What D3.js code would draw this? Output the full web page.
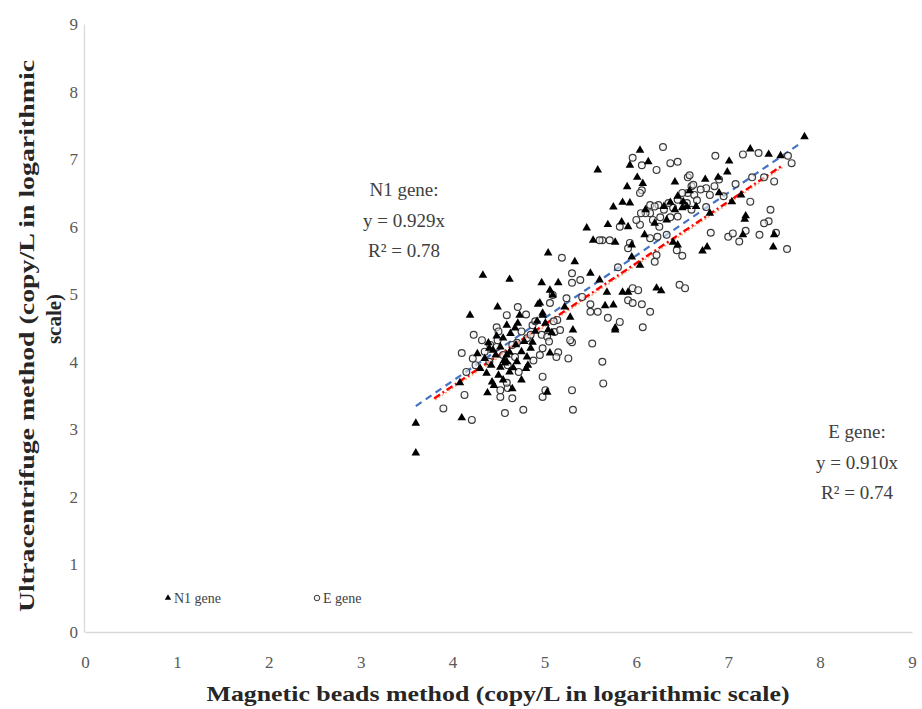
<!DOCTYPE html>
<html>
<head>
<meta charset="utf-8">
<script src="https://cdn.jsdelivr.net/npm/d3@7"></script>
<style>
  html, body { margin: 0; padding: 0; background: #fff; }
  svg { display: block; }
</style>
</head>
<body>
<svg id="chart" width="922" height="709"></svg>
<script>
// ---------- DATA ----------
const xTicks = [0, 1, 2, 3, 4, 5, 6, 7, 8, 9];
const yTicks = [0, 1, 2, 3, 4, 5, 6, 7, 8, 9];

const n1X = [3.60,3.60,4.10,4.08,4.19,4.49,4.39,4.37,4.43,4.38,4.52,4.57,4.59,4.66,4.75,4.81,4.82,4.52,4.59,4.68,4.71,4.62,4.55,4.87,4.98,5.04,5.06,5.09,4.95,4.33,4.62,4.73,4.44,4.59,5.08,5.03,5.66,5.75,5.77,4.93,
  4.35,4.42,4.47,4.50,4.62,4.70,4.75,4.55,4.85,4.90,4.40,4.30,4.65,4.45,4.80,4.27,4.48,4.63,4.78,4.92,4.56,4.69,
  5.04,5.33,5.53,5.77,5.95,6.09,5.95,6.04,5.50,5.60,5.15,5.06,4.97,5.68,5.85,5.91,6.22,5.77,5.31,4.98,5.01,5.22,5.28,6.40,6.45,
  6.04,5.58,5.93,6.13,6.01,6.42,6.07,5.90,5.85,5.93,5.75,5.46,5.69,5.84,5.91,6.37,6.33,6.42,6.50,
  7.83,7.24,7.44,7.57,7.01,6.89,6.99,6.58,6.51,7.18,7.19,6.72,7.49,7.16,7.50,7.14,7.04,6.27,6.77,
  6.10,6.30,6.45,6.55,6.20,6.65,6.75,6.90,6.80];
const n1Y = [2.65,3.09,3.17,3.69,4.69,4.81,4.28,3.83,3.70,3.54,3.92,3.98,4.10,3.91,3.73,4.07,3.95,4.22,4.54,4.50,4.57,4.14,3.73,4.29,4.69,4.47,4.13,4.99,4.87,5.28,5.22,4.69,4.17,4.00,4.43,3.55,4.83,4.84,4.50,4.85,
  4.05,3.95,4.10,3.80,3.85,4.00,4.15,4.35,4.20,4.45,4.20,3.90,3.60,3.65,3.90,4.12,4.38,4.42,4.30,4.60,4.02,4.25,
  5.61,5.48,5.80,5.77,5.73,5.88,5.55,5.43,5.31,5.21,5.17,5.06,5.17,5.03,5.03,5.03,5.09,4.47,4.47,4.72,4.57,4.81,4.66,5.77,5.73,
  7.13,6.84,6.91,6.96,6.73,6.66,6.64,6.59,6.36,6.35,6.29,5.98,6.03,6.07,6.00,6.36,6.10,6.25,6.28,
  7.33,7.15,7.07,7.05,6.97,6.73,6.81,6.53,6.37,6.11,6.16,5.64,5.70,5.88,5.88,6.47,6.37,5.05,5.70,
  6.25,6.30,6.45,6.30,6.05,6.30,6.70,6.50,6.20];

const eX = [3.90,4.13,4.21,4.10,4.22,4.23,4.32,4.48,4.59,4.71,4.49,4.52,4.57,4.60,4.65,4.77,4.59,4.52,4.68,4.70,4.87,4.97,4.98,4.98,5.01,4.98,5.11,5.15,4.81,4.41,4.48,
  5.30,5.52,5.26,5.63,5.13,5.64,5.30,5.31,
  5.19,5.30,5.39,5.30,5.63,5.71,5.93,5.91,6.23,6.33,6.44,6.22,6.20,5.80,6.47,5.96,6.02,5.91,5.96,6.15,6.07,5.69,5.82,5.50,5.58,5.41,5.28,5.17,5.06,5.09,5.24,5.14,5.03,5.50,6.06,
  6.29,5.96,6.06,6.22,6.37,6.45,6.06,6.04,6.15,6.24,6.15,6.18,6.26,6.37,6.40,6.04,5.82,5.60,6.56,6.56,
  7.16,7.33,6.86,7.65,7.69,7.26,7.39,7.50,6.58,6.60,6.63,6.76,6.80,6.66,6.60,6.76,7.24,7.08,7.46,7.44,7.39,7.19,7.12,6.81,7.52,7.64,7.34,6.50,6.53,
  4.40,4.55,4.65,4.85,4.90,4.75,4.50,4.35,4.25,4.60,4.95,5.05,4.80,5.10,4.15,4.72,4.88,
  6.10,6.20,6.30,6.35,6.45,6.50,6.55,6.00,6.25,6.45,6.70,6.85,6.95,6.05,7.00,7.05,6.15,6.62,6.90];
const eY = [3.31,3.51,3.14,4.13,4.05,4.40,4.32,4.51,4.69,4.81,4.32,3.48,3.24,3.61,3.46,3.29,3.69,3.58,4.07,4.28,4.54,4.40,4.20,3.78,3.58,3.48,4.44,4.14,4.35,4.25,4.22,
  4.29,4.27,4.05,4.00,4.07,3.68,3.58,3.29,
  5.54,5.31,5.21,5.17,5.80,5.80,5.76,5.68,5.85,5.88,5.65,5.58,5.48,5.40,5.14,5.09,5.06,4.91,4.87,4.74,4.51,4.65,4.59,4.74,4.74,4.96,4.32,4.47,4.87,4.99,4.94,4.62,4.37,4.85,4.85,
  7.18,7.02,6.91,6.84,6.94,6.96,6.54,6.50,6.32,6.32,6.20,6.10,6.14,6.14,6.28,6.03,6.00,5.80,6.73,6.50,
  7.07,7.09,7.05,7.05,6.94,6.73,6.73,6.67,6.76,6.60,6.47,6.57,6.47,6.39,6.25,6.29,6.37,6.63,6.25,6.08,6.05,5.94,5.78,5.91,5.91,5.67,5.88,5.57,5.09,
  4.00,4.10,4.25,4.40,4.60,4.45,4.45,4.15,3.95,3.95,4.10,4.30,4.70,4.60,3.85,3.85,4.02,
  6.20,6.30,6.25,6.35,6.40,6.50,6.35,6.10,6.00,6.15,6.55,6.60,6.45,6.20,5.85,5.90,5.83,6.62,6.70];

// Trendlines (through origin): slope and drawn x-range
const n1Slope = 0.929, n1Range = [3.6, 7.8];
const eSlope = 0.910,  eRange  = [3.8, 7.6];

const n1Label = ["N1 gene:", "y = 0.929x", "R\u00B2 = 0.78"];
const eLabel  = ["E gene:", "y = 0.910x", "R\u00B2 = 0.74"];

// ---------- CHART ----------
const svg = d3.select("#chart");
const serif = "'Liberation Serif', 'Times New Roman', serif";

const x = d3.scaleLinear().domain([0, 9]).range([85, 912]);
const y = d3.scaleLinear().domain([0, 9]).range([632, 24]);

// Axes
const gx = svg.append("g").attr("transform", `translate(0,${y(0)})`)
  .call(d3.axisBottom(x).tickValues(xTicks).tickSize(0).tickPadding(24).tickFormat(d3.format("d")));
const gy = svg.append("g").attr("transform", `translate(${x(0) - 1},0)`)
  .call(d3.axisLeft(y).tickValues(yTicks).tickSize(0).tickPadding(6).tickFormat(d3.format("d")));
[gx, gy].forEach(g => {
  g.attr("font-family", null).attr("font-size", null);
  g.select(".domain").attr("stroke", "#d9d9d9").attr("stroke-width", 1.3);
  g.selectAll("text").style("font-family", serif).style("font-size", "17px").attr("fill", "#595959");
});

// Trendlines
function trend(slope, range) {
  return d3.line().x(d => x(d)).y(d => y(slope * d))(range);
}
svg.append("path").attr("d", trend(eSlope, eRange))
  .attr("fill", "none").attr("stroke", "#F4B183").attr("stroke-width", 1.6)
  .attr("stroke-dasharray", "2,2").attr("transform", "translate(1,1.5)");
svg.append("path").attr("d", trend(eSlope, eRange))
  .attr("fill", "none").attr("stroke", "#FF0000").attr("stroke-width", 2.4)
  .attr("stroke-dasharray", "7,3,2,3");
svg.append("path").attr("d", trend(n1Slope, n1Range))
  .attr("fill", "none").attr("stroke", "#4472C4").attr("stroke-width", 2.2)
  .attr("stroke-dasharray", "7,5");

// E gene points (open circles)
const eData = eX.map((v, i) => ({ x: v, y: eY[i] }));
svg.append("g").selectAll("circle").data(eData).join("circle")
  .attr("cx", d => x(d.x)).attr("cy", d => y(d.y)).attr("r", 3.4)
  .attr("fill", "#f2f2f2").attr("fill-opacity", 0.6)
  .attr("stroke", "#3a3a3a").attr("stroke-width", 1.2);

// N1 gene points (filled triangles)
const tri = d3.symbol().type(d3.symbolTriangle).size(32);
const n1Data = n1X.map((v, i) => ({ x: v, y: n1Y[i] }));
svg.append("g").selectAll("path").data(n1Data).join("path")
  .attr("d", tri).attr("transform", d => `translate(${x(d.x)},${y(d.y)})`)
  .attr("fill", "#000");

// Equation annotations
function annot(lines, cx, y0) {
  svg.append("g").selectAll("text").data(lines).join("text")
    .attr("x", cx).attr("y", (d, i) => y0 + i * 30.5)
    .attr("text-anchor", "middle").style("font-family", serif)
    .style("font-size", "19px").attr("fill", "#404040").text(d => d);
}
annot(n1Label, 404, 196);
annot(eLabel, 857, 438);

// Legend
svg.append("path").attr("d", d3.symbol().type(d3.symbolTriangle).size(18))
  .attr("transform", "translate(168,598)").attr("fill", "#000");
svg.append("text").attr("x", 174).attr("y", 603).style("font-family", serif)
  .style("font-size", "14px").attr("fill", "#404040").text("N1 gene");
svg.append("circle").attr("cx", 317).attr("cy", 598).attr("r", 2.8)
  .attr("fill", "#f2f2f2").attr("stroke", "#3a3a3a").attr("stroke-width", 1);
svg.append("text").attr("x", 323).attr("y", 603).style("font-family", serif)
  .style("font-size", "14px").attr("fill", "#404040").text("E gene");

// Axis titles
svg.append("text").attr("x", 498).attr("y", 701).attr("text-anchor", "middle")
  .style("font-family", serif).attr("font-weight", "bold").style("font-size", "21px")
  .attr("fill", "#262626").attr("textLength", 583).attr("lengthAdjust", "spacingAndGlyphs")
  .text("Magnetic beads method (copy/L in logarithmic scale)");
const yt = svg.append("text").attr("transform", "translate(34,336) rotate(-90)")
  .attr("text-anchor", "middle").style("font-family", serif).attr("font-weight", "bold")
  .style("font-size", "21px").attr("fill", "#262626");
yt.append("tspan").attr("x", 0).attr("y", 0)
  .attr("textLength", 552).attr("lengthAdjust", "spacingAndGlyphs")
  .text("Ultracentrifuge method (copy/L in logarithmic");
yt.append("tspan").attr("x", 17).attr("y", 27).text("scale)");
</script>
</body>
</html>
